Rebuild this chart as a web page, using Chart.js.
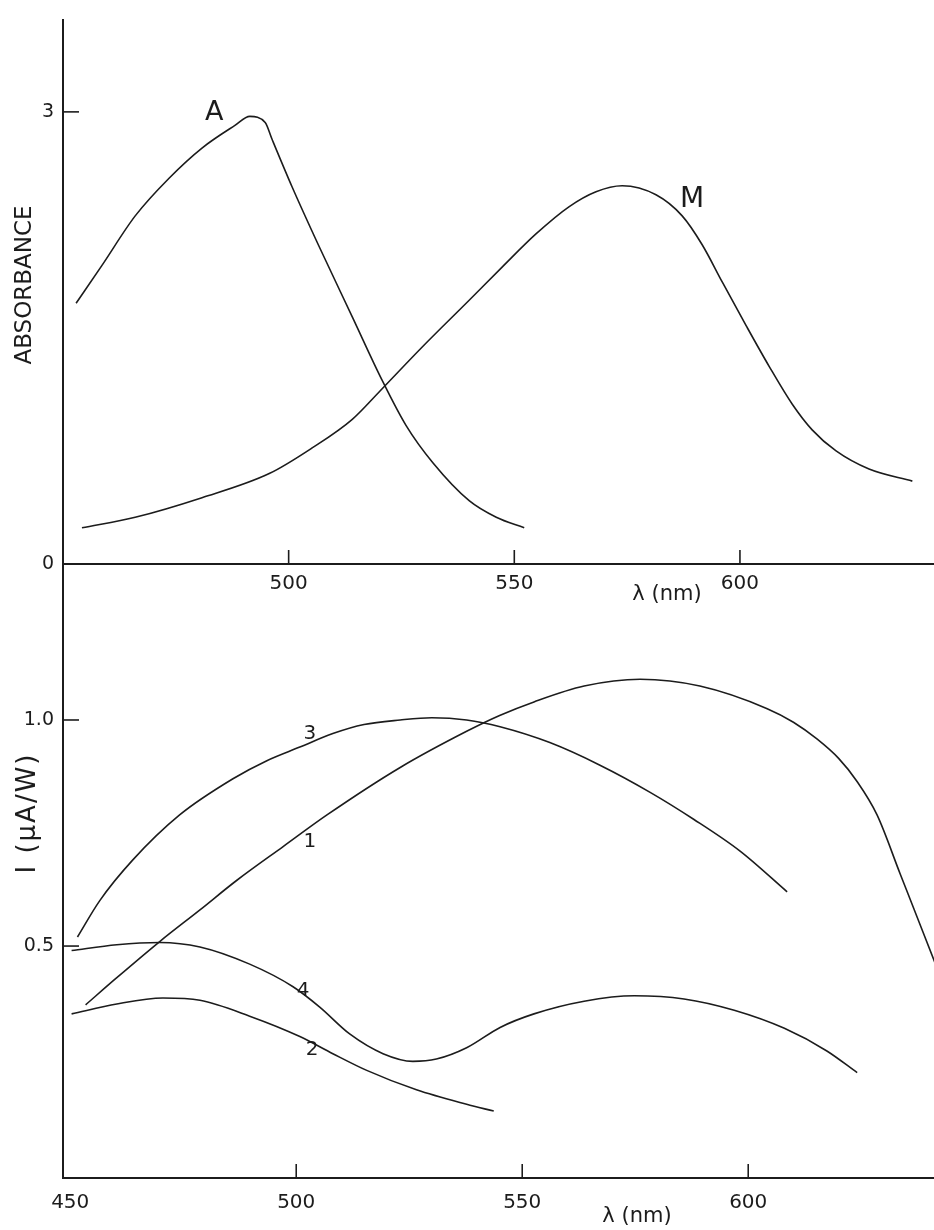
<!DOCTYPE html>
<html lang="en">
<head>
<meta charset="utf-8">
<script src="https://cdn.jsdelivr.net/npm/chart.js@4.4.1/dist/chart.umd.min.js"></script>
<style>
  body { margin: 0; background: #fff; }
  #top { position: absolute; left: 0; top: 0; width: 934px; height: 610px; }
  #bottom { position: absolute; left: 0; top: 540px; width: 934px; height: 690px; }
</style>
</head>
<body>
<div id="top"><canvas id="absPlot"></canvas></div>
<div id="bottom"><canvas id="currentPlot"></canvas></div>

<script>
// --- absorbance panel (top) ---
const wlA  = [452.9, 458.6, 466.0, 473.5, 480.8, 488.1, 491.4, 494.8, 496.3, 500.8, 506.7, 514.1, 520.7, 526.0, 532.0, 540.0, 546.0, 552.2];
const absA = [1.73, 1.98, 2.31, 2.56, 2.76, 2.91, 2.97, 2.93, 2.82, 2.50, 2.11, 1.64, 1.22, 0.92, 0.67, 0.42, 0.31, 0.24];

const wlM  = [454.2, 466.0, 480.8, 495.7, 505.2, 514.1, 520.3, 529.6, 540.0, 547.3, 554.8, 562.1, 568.1, 573.9, 581.4, 587.2, 591.6, 596.1, 601.4, 606.5, 611.6, 616.0, 621.3, 628.6, 638.2];
const absM = [0.24, 0.31, 0.44, 0.60, 0.77, 0.96, 1.15, 1.44, 1.75, 1.97, 2.19, 2.37, 2.47, 2.51, 2.45, 2.31, 2.12, 1.87, 1.58, 1.31, 1.06, 0.89, 0.75, 0.63, 0.55];

// --- photocurrent panel (bottom) ---
const wl1  = [453.4, 460.3, 469.8, 478.7, 486.8, 497.1, 506.8, 523.0, 537.7, 545.0, 552.6, 563.7, 576.1, 589.3, 604.2, 610.0, 615.2, 620.0, 624.0, 628.5, 633.6, 638.7, 643.0];
const cur1 = [0.37, 0.43, 0.51, 0.58, 0.645, 0.72, 0.79, 0.895, 0.975, 1.01, 1.04, 1.075, 1.09, 1.075, 1.025, 0.995, 0.958, 0.915, 0.865, 0.79, 0.66, 0.53, 0.42];

const wl2  = [450.3, 460.3, 470.5, 478.7, 489.7, 500.8, 508.1, 515.6, 526.6, 537.7, 543.7];
const cur2 = [0.35, 0.372, 0.385, 0.38, 0.345, 0.30, 0.262, 0.225, 0.182, 0.15, 0.135];

const wl3  = [451.6, 456.5, 463.8, 474.2, 486.0, 493.5, 500.8, 508.1, 515.0, 523.0, 530.0, 537.7, 545.1, 556.1, 567.2, 578.3, 588.0, 598.2, 608.6];
const cur3 = [0.52, 0.60, 0.69, 0.79, 0.87, 0.91, 0.94, 0.97, 0.99, 1.00, 1.005, 1.00, 0.985, 0.95, 0.90, 0.84, 0.78, 0.71, 0.62];

const wl4  = [450.3, 460.3, 469.8, 478.7, 489.7, 499.3, 505.2, 511.9, 519.2, 525.8, 531.0, 537.7, 545.1, 552.6, 563.7, 574.8, 585.8, 596.9, 608.0, 617.4, 624.1];
const cur4 = [0.49, 0.503, 0.508, 0.498, 0.46, 0.41, 0.365, 0.305, 0.262, 0.245, 0.25, 0.275, 0.32, 0.35, 0.378, 0.39, 0.383, 0.358, 0.318, 0.268, 0.22];

// tick labels
const topTicksX = [500, 550, 600];
const topTicksY = [0, 3];
const botTicksX = [450, 500, 550, 600];
const botTicksY = [0.5, 1.0];

const INK = '#1c1c1c';
const FONT = "'DejaVu Sans', sans-serif";

function pairs(xs, ys) {
    return xs.map((x, i) => ({ x: x, y: ys[i] }));
}

function curve(xs, ys) {
    return {
        data: pairs(xs, ys),
        borderColor: INK,
        borderWidth: 1.6,
        pointRadius: 0,
        fill: false,
        cubicInterpolationMode: 'monotone',
    };
}

// inward tick marks, curve letters and axis titles
const figureMarks = {
    id: 'figureMarks',
    afterDraw(chart, args, opts) {
        const ctx = chart.ctx;
        const xs = chart.scales.x, ys = chart.scales.y;
        const area = chart.chartArea;
        ctx.save();
        ctx.strokeStyle = INK;
        ctx.lineWidth = 1.6;
        opts.xTicks.forEach((v) => {
            const px = xs.getPixelForValue(v);
            ctx.beginPath(); ctx.moveTo(px, area.bottom); ctx.lineTo(px, area.bottom - 14); ctx.stroke();
        });
        opts.yTicks.forEach((v) => {
            const py = ys.getPixelForValue(v);
            ctx.beginPath(); ctx.moveTo(area.left, py); ctx.lineTo(area.left + 16, py); ctx.stroke();
        });
        ctx.fillStyle = INK;
        ctx.textAlign = 'center';
        ctx.textBaseline = 'middle';
        opts.labels.forEach((l) => {
            ctx.font = l.size + 'px ' + FONT;
            ctx.fillText(l.text, xs.getPixelForValue(l.x), ys.getPixelForValue(l.y));
        });
        const xt = opts.xTitle;
        ctx.font = xt.size + 'px ' + FONT;
        ctx.fillText(xt.text, xt.px, xt.py);
        const yt = opts.yTitle;
        ctx.translate(yt.px, yt.py);
        ctx.rotate(-Math.PI / 2);
        ctx.font = yt.size + 'px ' + FONT;
        ctx.letterSpacing = yt.spacing || '0px';
        ctx.fillText(yt.text, 0, 0);
        ctx.restore();
    }
};

function makeOptions(cfg) {
    return {
        responsive: true,
        maintainAspectRatio: false,
        animation: false,
        layout: { padding: { top: cfg.padTop, right: 0, left: 0, bottom: 0 } },
        plugins: {
            legend: { display: false },
            tooltip: { enabled: false },
            figureMarks: cfg.marks,
        },
        scales: {
            x: {
                type: 'linear',
                min: cfg.xMin, max: cfg.xMax,
                afterFit: (s) => { s.height = cfg.xHeight; },
                afterBuildTicks: (s) => { s.ticks = cfg.xTicks.map((v) => ({ value: v })); },
                ticks: { color: INK, font: { family: FONT, size: 20 }, padding: cfg.xPad, maxRotation: 0,
                         callback: (v) => String(v) },
                grid: { drawOnChartArea: false, drawTicks: false },
                border: { display: true, color: INK, width: 2 },
            },
            y: {
                type: 'linear',
                min: cfg.yMin, max: cfg.yMax,
                afterFit: (s) => { s.width = 63; },
                afterBuildTicks: (s) => { s.ticks = cfg.yTicks.map((v) => ({ value: v })); },
                ticks: { color: INK, font: { family: FONT, size: 19 }, padding: 9,
                         callback: cfg.yFormat },
                grid: { drawOnChartArea: false, drawTicks: false },
                border: { display: true, color: INK, width: 2 },
            }
        }
    };
}

const absChart = new Chart(document.getElementById('absPlot').getContext('2d'), {
    type: 'line',
    data: { datasets: [curve(wlA, absA), curve(wlM, absM)] },
    options: makeOptions({
        padTop: 18, xMin: 450, xMax: 643.0, yMin: 0, yMax: 3.607,
        xHeight: 46, xPad: 8, xTicks: topTicksX, yTicks: topTicksY,
        yFormat: (v) => String(v),
        marks: {
            xTicks: topTicksX, yTicks: [3],
            labels: [
                { text: 'A', x: 483.5, y: 2.99, size: 27 },
                { text: 'M', x: 589.4, y: 2.42, size: 28 },
            ],
            xTitle: { text: 'λ (nm)', px: 667, py: 595, size: 21 },
            yTitle: { text: 'ABSORBANCE', px: 25, py: 285, size: 23 },
        }
    }),
    plugins: [figureMarks]
});

const curChart = new Chart(document.getElementById('currentPlot').getContext('2d'), {
    type: 'line',
    data: { datasets: [curve(wl1, cur1), curve(wl2, cur2), curve(wl3, cur3), curve(wl4, cur4)] },
    options: makeOptions({
        padTop: 24, xMin: 448.4, xMax: 641.1, yMin: -0.013, yMax: 1.345,
        xHeight: 52, xPad: 13, xTicks: botTicksX, yTicks: botTicksY,
        yFormat: (v) => v.toFixed(1),
        marks: {
            xTicks: [500, 550, 600], yTicks: botTicksY,
            labels: [
                { text: '3', x: 503.0, y: 0.97, size: 20 },
                { text: '1', x: 503.0, y: 0.73, size: 20 },
                { text: '4', x: 501.5, y: 0.40, size: 20 },
                { text: '2', x: 503.5, y: 0.27, size: 20 },
            ],
            xTitle: { text: 'λ (nm)', px: 637, py: 677, size: 21 },
            yTitle: { text: 'I (μA/W)', px: 28, py: 273, size: 26, spacing: '2px' },
        }
    }),
    plugins: [figureMarks]
});
</script>
</body>
</html>
